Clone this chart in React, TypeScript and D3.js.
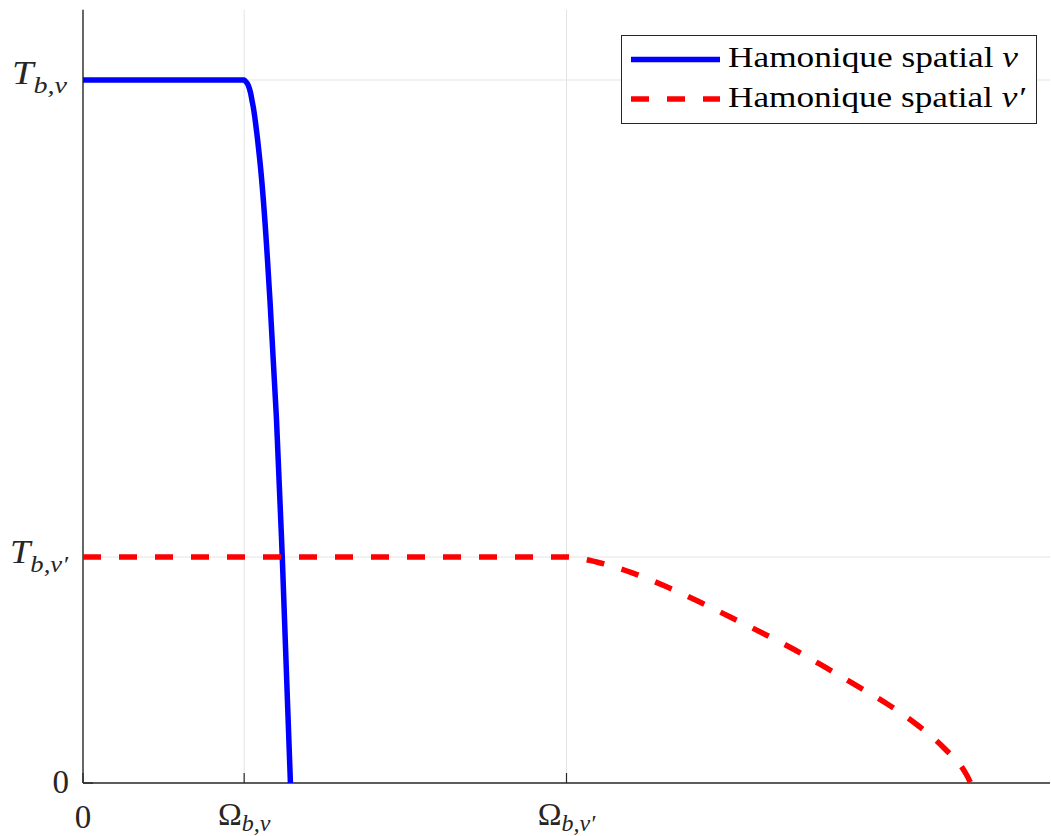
import React from "react";
import * as d3 from "d3";

// ---- data ----
const xTickValues = [0, 1, 3];
const xTickLabels = ["0", "Ω", "Ω"];
const xTickSubs = ["", "b,v", "b,v′"];
const yTickValues = [0, 0.3215, 1];
const yTickSubs = ["", "b,v′", "b,v"];

const blueX = [0, 1.0, 1.02, 1.052, 1.076, 1.097, 1.16, 1.2, 1.2365, 1.287];
const blueY = [1, 1, 0.995, 0.967, 0.929, 0.886, 0.687, 0.52, 0.321, 0];

const redX = [0, 3.0, 3.187, 3.404, 3.611, 3.814, 4.016, 4.215, 4.418, 4.61, 4.8, 4.993, 5.177, 5.344, 5.483, 5.508];
const redY = [0.3215, 0.3215, 0.3144, 0.2992, 0.2802, 0.2589, 0.2361, 0.2134, 0.1892, 0.164, 0.1384, 0.112, 0.0825, 0.0494, 0.0114, 0];

const seriesNames = ["Hamonique spatial ", "Hamonique spatial "];
const seriesVars = ["v", "v′"];

const W = 1051;
const H = 836;
const left = 83;
const right = 1050;
const bottom = 783;
const FONT = "Liberation Serif";
const AX = "#262626";
const GRID = "#e3e3e3";

export default function App() {
  const x = d3.scaleLinear().domain([0, 6]).range([left, right]);
  const y = d3.scaleLinear().domain([0, 1.1]).range([bottom, bottom - 773.3]);

  const blue: [number, number][] = blueX.map((v, i) => [v, blueY[i]]);
  const red: [number, number][] = redX.map((v, i) => [v, redY[i]]);

  const linear = d3
    .line<[number, number]>()
    .x((d) => x(d[0]))
    .y((d) => y(d[1]));
  const monoX = d3
    .line<[number, number]>()
    .x((d) => x(d[0]))
    .y((d) => y(d[1]))
    .curve(d3.curveMonotoneX);
  const monoY = d3
    .line<[number, number]>()
    .x((d) => x(d[0]))
    .y((d) => y(d[1]))
    .curve(d3.curveMonotoneY);

  const blueFlat = linear(blue.slice(0, 2)) || "";
  const blueDrop = monoY(blue.slice(1)) || "";

  const yTop = y(1.1);
  const ts = { fontFamily: FONT };

  return (
    <svg width={W} height={H} style={{ position: "absolute", left: 0, top: 0, background: "#fff" }}>
      <rect x={0} y={0} width={W} height={H} fill="#fff" />
      {xTickValues.slice(1).map((v) => (
        <line key={"gx" + v} x1={x(v)} x2={x(v)} y1={bottom} y2={yTop} stroke={GRID} strokeWidth={1} />
      ))}
      {yTickValues.slice(1).map((v) => (
        <line key={"gy" + v} x1={left} x2={right} y1={y(v)} y2={y(v)} stroke={GRID} strokeWidth={1} />
      ))}
      <line x1={left} x2={left} y1={yTop} y2={bottom} stroke={AX} strokeWidth={1.4} />
      <line x1={left} x2={right} y1={bottom} y2={bottom} stroke={AX} strokeWidth={1.4} />
      {xTickValues.map((v) => (
        <line key={"tx" + v} x1={x(v)} x2={x(v)} y1={bottom} y2={bottom - 10} stroke={AX} strokeWidth={1.2} />
      ))}
      {yTickValues.map((v) => (
        <line key={"ty" + v} x1={left} x2={left + 10} y1={y(v)} y2={y(v)} stroke={AX} strokeWidth={1.2} />
      ))}

      <path d={blueFlat + blueDrop.replace(/^M/, "L")} fill="none" stroke="#0000ff" strokeWidth={5.5} strokeLinejoin="round" />
      <path d={monoX(red) || ""} fill="none" stroke="#ff0000" strokeWidth={5.5} strokeDasharray="18 18" />

      {xTickValues.map((v, i) =>
        i === 0 ? (
          <text key={"lx" + v} style={ts} x={x(v)} y={828} textAnchor="middle" fontSize={33} fill={AX}>
            {xTickLabels[i]}
          </text>
        ) : (
          <text key={"lx" + v} style={ts} x={x(v)} y={825} textAnchor="middle" fill={AX}>
            <tspan fontSize={32}>{xTickLabels[i]}</tspan>
            <tspan fontSize={24} fontStyle="italic" dy={6}>
              {xTickSubs[i]}
            </tspan>
          </text>
        )
      )}

      {yTickValues.map((v, i) =>
        i === 0 ? (
          <text key={"ly" + v} style={ts} x={69} y={y(v) + 10} textAnchor="end" fontSize={33} fill={AX}>
            0
          </text>
        ) : (
          <text
            key={"ly" + v}
            style={ts}
            x={i === 1 ? 10 : 12}
            y={y(v) + (i === 1 ? 6 : 3.5)}
            textLength={i === 1 ? 58 : 55}
            lengthAdjust="spacingAndGlyphs"
            fill={AX}
          >
            <tspan fontSize={33} fontStyle="italic">T</tspan>
            <tspan fontSize={24} fontStyle="italic" dy={9}>
              {yTickSubs[i]}
            </tspan>
          </text>
        )
      )}

      <rect x={621.5} y={35.5} width={415} height={88} fill="#fff" stroke={AX} strokeWidth={1} />
      <line x1={631} x2={720} y1={59.5} y2={59.5} stroke="#0000ff" strokeWidth={5.5} />
      <line x1={631} x2={720} y1={99} y2={99} stroke="#ff0000" strokeWidth={5.5} strokeDasharray="18 18" />
      {seriesNames.map((n, i) => (
        <text
          key={"leg" + i}
          style={ts}
          x={728}
          y={i === 0 ? 67 : 106.5}
          fontSize={29}
          textLength={i === 0 ? 290 : 297}
          lengthAdjust="spacingAndGlyphs"
          fill="#000"
        >
          {n}
          <tspan fontStyle="italic">{seriesVars[i]}</tspan>
        </text>
      ))}
    </svg>
  );
}
